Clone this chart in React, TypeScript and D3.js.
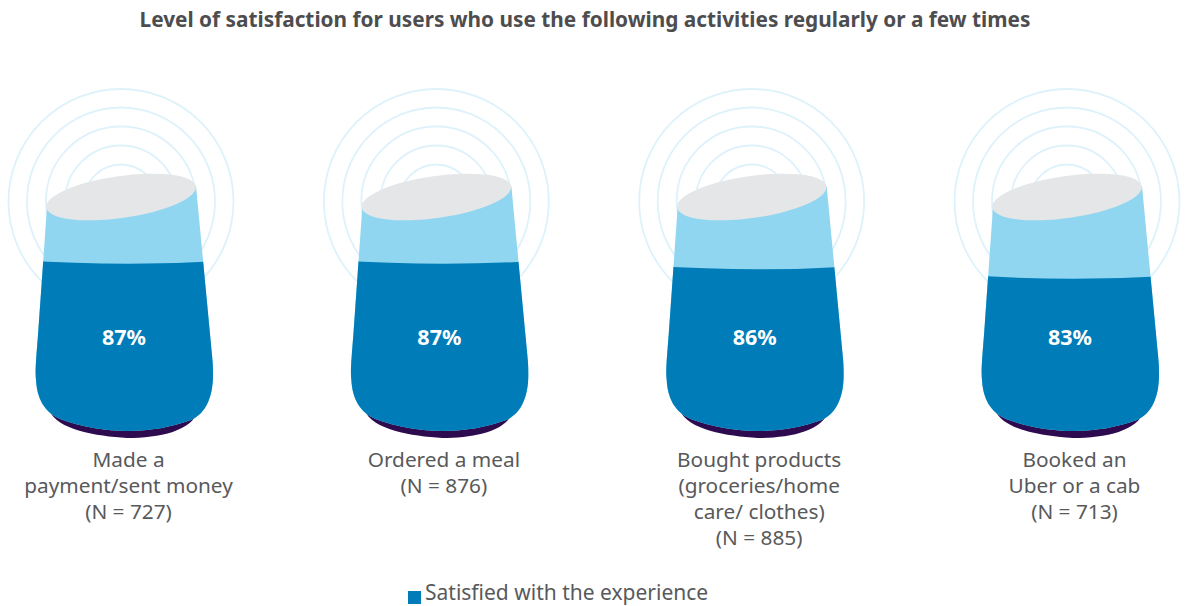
// App.tsx
import React from "react";
import * as d3 from "d3";

const title = "Level of satisfaction for users who use the following activities regularly or a few times";
const categories = ["payment", "meal", "products", "cab"];
const labelLines = [
  ["Made a", "payment/sent money", "(N = 727)"],
  ["Ordered a meal", "(N = 876)"],
  ["Bought products", "(groceries/home", "care/ clothes)", "(N = 885)"],
  ["Booked an", "Uber or a cab", "(N = 713)"],
];
const satisfied = [87, 87, 86, 83];
const legendLabel = "Satisfied with the experience";

const ringRadii = [112.5, 94, 75, 56, 37];

const DARK = "#007db8";
const LIGHT = "#90d6f0";
const TOP = "#e5e6e8";
const BASE = "#2e0a4f";
const RING = "#def2fb";
const TEXT = "#58595b";
const FONT = "'Noto Sans', sans-serif";

// speaker body, x relative to the ring centre
const bodyPath = () => {
  const p = d3.path();
  p.moveTo(-74, 207);
  p.lineTo(-83, 335);
  p.bezierCurveTo(-85, 360, -86, 372, -85, 380);
  p.bezierCurveTo(-84, 398, -77, 412, -61, 419);
  p.bezierCurveTo(-40, 427, -15, 431, 6, 431);
  p.bezierCurveTo(30, 431, 50, 427, 70, 420);
  p.bezierCurveTo(84, 414, 92, 398, 92, 375);
  p.bezierCurveTo(92, 368, 92, 365, 91, 355);
  p.lineTo(75, 186);
  p.closePath();
  return p.toString();
};

const basePath = () => {
  const p = d3.path();
  p.moveTo(-72, 410);
  p.bezierCurveTo(-64, 430, -25, 436, 6, 438);
  p.bezierCurveTo(38, 438, 72, 431, 77, 410);
  p.closePath();
  return p.toString();
};

const levelPath = (y: number) => {
  const p = d3.path();
  p.moveTo(-100, y - 1);
  p.quadraticCurveTo(0, y + 6, 100, y);
  p.lineTo(100, 450);
  p.lineTo(-100, 450);
  p.closePath();
  return p.toString();
};

export default function App() {
  const x = d3.scalePoint<string>().domain(categories).range([121, 1067]);
  // fill line, it is not quite linear
  const level = d3.scaleLinear().domain([83, 86, 87]).range([276, 266.5, 261]);
  const body = bodyPath();

  return (
    <svg
      width={1186}
      height={606}
      style={{ position: "absolute", left: 0, top: 0, display: "block", background: "#fff" }}
    >
      <text x={585} y={27} textAnchor="middle" fontFamily={FONT} fontWeight={700} fontSize={20.8} fill="#4d4d4f">
        {title}
      </text>

      {categories.map((c, i) => (
        <g key={c} transform={`translate(${x(c)},0)`}>
          {ringRadii.map((r) => (
            <circle key={r} cx={0} cy={201.5} r={r} fill="none" stroke={RING} strokeWidth={1.8} />
          ))}
          <clipPath id={`level-${i}`}>
            <path d={levelPath(level(satisfied[i]))} />
          </clipPath>
          <path d={basePath()} fill={BASE} />
          <path d={body} fill={LIGHT} />
          <path d={body} fill={DARK} clipPath={`url(#level-${i})`} />
          <ellipse cx={0} cy={197} rx={75.5} ry={21} transform="rotate(-8 0 197)" fill={TOP} />
          <text x={3} y={345} textAnchor="middle" fontFamily={FONT} fontWeight={700} fontSize={21.5} fill="#fff">
            {satisfied[i]}%
          </text>
          <text textAnchor="middle" fontFamily={FONT} fontSize={20.8} fill={TEXT}>
            {labelLines[i].map((line, j) => (
              <tspan key={line} x={7.5} y={467 + j * 26}>
                {line}
              </tspan>
            ))}
          </text>
        </g>
      ))}

      <rect x={408} y={591} width={13} height={13} fill={DARK} />
      <text x={425} y={600} fontFamily={FONT} fontSize={21} fill={TEXT}>
        {legendLabel}
      </text>
    </svg>
  );
}
